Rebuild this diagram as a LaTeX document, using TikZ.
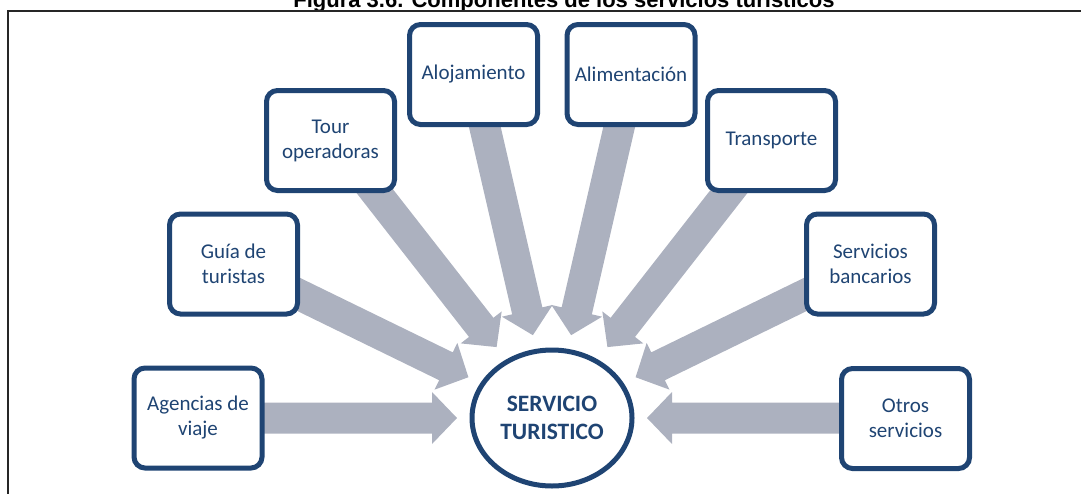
\documentclass[tikz,border=0pt]{standalone}
\usepackage{fontspec}
\setmainfont{Carlito}
\newfontfamily\titlefont{Liberation Sans}
\usetikzlibrary{shapes.geometric}
\definecolor{navy}{HTML}{1F4473}
\definecolor{arrowgray}{HTML}{ACB1BF}
\pgfdeclarelayer{background}
\pgfsetlayers{background,main}
\newcommand\spoke[2]{%
  \fill[arrowgray, shift={(hub.center)}, rotate=#1]
    (330,-15.5) -- ({#2+25},-15.5) -- ({#2+25},-26) -- (#2,0) --
    ({#2+25},26) -- ({#2+25},15.5) -- (330,15.5) -- cycle;}
\begin{document}
\begin{tikzpicture}[x=1pt,y=-1pt,
  box/.style={draw=navy, line width=5pt, rounded corners=11pt, fill=white,
    minimum width=128pt, minimum height=100pt, align=center, text=navy,
    inner sep=0pt, font=\fontsize{21}{25}\selectfont},
  hub/.style={ellipse, draw=navy, line width=5pt, fill=white,
    minimum width=160pt, minimum height=136pt, inner sep=0pt, align=center,
    text=navy, font=\bfseries\fontsize{23.5}{28}\selectfont}]
\useasboundingbox (0,0) rectangle (1081,493);
\clip (0,0) rectangle (1081,493);
\node[anchor=base, font=\titlefont\bfseries\fontsize{22}{24}\selectfont] (title) at (564,7)
  {Figura 3.6. Componentes de los servicios turísticos};
\draw[line width=2pt, black!85] (8,500) -- (8,11) -- (1090,11);
\node[hub] (hub) at (552,418) {SERVICIO\\TURISTICO};
\node[box] (agencias) at (198,418) {Agencias de\\viaje};
\node[box] (guia) at (233.5,264) {Guía de\\turistas};
\node[box] (tour) at (330.5,140.5) {Tour\\operadoras};
\node[box] (aloj) at (473.5,74.5) {Alojamiento};
\node[box] (alim) at (631,74.5) {Alimentación};
\node[box] (trans) at (771.5,140.5) {Transporte};
\node[box] (banc) at (870.5,264) {Servicios\\bancarios};
\node[box] (otros) at (905.5,418.5) {Otros\\servicios};
\begin{pgfonlayer}{background}
\spoke{180}{95}
\spoke{154}{93}
\spoke{128}{90}
\spoke{103}{85}
\spoke{77}{85}
\spoke{52}{90}
\spoke{26}{93}
\spoke{0}{95}
\end{pgfonlayer}
\end{tikzpicture}
\end{document}
